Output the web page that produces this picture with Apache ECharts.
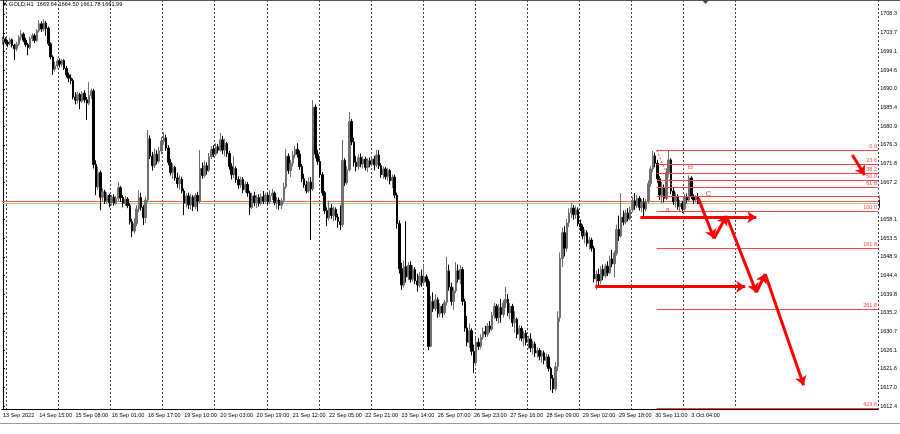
<!DOCTYPE html>
<html><head><meta charset="utf-8">
<script src="https://cdn.jsdelivr.net/npm/echarts@6/dist/echarts.min.js"></script>
<style>html,body{margin:0;padding:0;background:#fff}#c{width:900px;height:434px}</style>
</head><body><div id="c"></div><script>
// ---------- data ----------
const slotCount = 387;              // bar slots on the time axis (incl. empty shift area)
const labelEvery = 16;              // bars between time labels
const gridEvery = 23, gridFirst = 2, gridLast = 324;
const timeLabels = ['13 Sep 2022','14 Sep 15:00','15 Sep 08:00','16 Sep 01:00','16 Sep 17:00','19 Sep 10:00','20 Sep 03:00','20 Sep 19:00','21 Sep 12:00','22 Sep 05:00','22 Sep 21:00','23 Sep 14:00','26 Sep 07:00','26 Sep 23:00','27 Sep 16:00','28 Sep 09:00','29 Sep 02:00','29 Sep 18:00','30 Sep 11:00','3 Oct 04:00'];
const priceTicks = [1612.4,1617.0,1621.6,1626.1,1630.7,1635.2,1639.8,1644.4,1648.9,1653.5,1658.1,1667.2,1671.8,1676.3,1680.9,1685.4,1690.0,1694.6,1699.1,1703.7,1708.3];
const priceMin = 1611.68, priceMax = 1711.72;
const titleText = '\u25BC GOLD,H1  1663.64 1664.50 1661.78 1661.99';
// candles: [open, close, low, high]
const candles = [
[1701.5,1702.2,1700.8,1702.8],[1702.2,1701.4,1700.9,1702.6],[1701.4,1701.0,1700.2,1701.9],[1701.0,1702.0,1700.6,1702.5],[1702.0,1700.6,1700.1,1702.3],
[1700.6,1699.8,1697.0,1701.0],[1699.8,1700.9,1699.2,1701.5],[1700.9,1702.6,1700.5,1703.1],[1702.6,1703.4,1701.8,1704.4],[1703.4,1701.9,1701.4,1703.8],
[1701.9,1700.8,1700.2,1702.4],[1700.8,1700.1,1698.2,1701.2],[1700.1,1702.3,1699.7,1702.8],[1702.3,1703.0,1701.6,1703.6],[1703.0,1701.8,1701.2,1703.5],
[1701.8,1704.2,1701.5,1704.6],[1704.2,1705.9,1703.8,1706.8],[1705.9,1704.6,1703.9,1706.5],[1704.6,1706.1,1704.0,1707.0],[1706.1,1704.8,1703.0,1706.6],
[1704.8,1701.0,1700.5,1705.2],[1701.0,1697.8,1697.2,1701.4],[1697.8,1694.8,1693.4,1698.2],[1694.8,1695.6,1694.2,1696.6],[1695.6,1696.8,1695.0,1697.4],
[1696.8,1696.0,1695.2,1697.5],[1696.0,1696.9,1695.4,1697.3],[1696.9,1695.0,1694.6,1697.2],[1695.0,1693.4,1692.8,1695.6],[1693.4,1692.6,1691.6,1694.0],
[1692.6,1692.0,1691.2,1693.5],[1692.0,1688.0,1687.4,1692.5],[1688.0,1687.2,1686.2,1689.2],[1687.2,1688.6,1686.4,1689.3],[1688.6,1687.0,1685.0,1689.0],
[1687.0,1688.9,1686.5,1689.4],[1688.9,1687.3,1686.6,1689.6],[1687.3,1686.5,1682.4,1688.0],[1686.5,1688.4,1686.0,1691.6],[1688.4,1689.5,1687.5,1690.1],
[1689.5,1671.5,1670.5,1690.0],[1671.5,1666.0,1664.0,1672.5],[1666.0,1669.5,1665.2,1671.0],[1669.5,1663.5,1660.3,1670.0],[1663.5,1664.8,1662.5,1665.6],
[1664.8,1662.6,1661.8,1665.3],[1662.6,1663.9,1662.0,1664.7],[1663.9,1662.2,1661.0,1664.3],[1662.2,1663.5,1661.5,1664.0],[1663.5,1662.0,1661.4,1664.2],
[1662.0,1663.2,1661.6,1663.8],[1663.2,1665.8,1662.6,1667.2],[1665.8,1663.4,1662.3,1666.2],[1663.4,1662.0,1661.0,1664.0],[1662.0,1663.0,1661.4,1663.8],
[1663.0,1661.4,1660.8,1663.5],[1661.4,1657.5,1656.8,1662.0],[1657.5,1655.2,1653.7,1658.2],[1655.2,1657.0,1654.6,1658.3],[1657.0,1660.6,1656.4,1661.5],
[1660.6,1663.4,1659.8,1665.2],[1663.4,1661.0,1660.2,1664.6],[1661.0,1658.5,1656.7,1661.6],[1658.5,1662.8,1657.2,1663.6],[1662.8,1677.8,1662.2,1679.9],
[1677.8,1673.5,1672.8,1678.6],[1673.5,1671.2,1670.0,1674.5],[1671.2,1674.0,1670.6,1675.4],[1674.0,1672.3,1671.5,1675.0],[1672.3,1674.8,1671.8,1675.8],
[1674.8,1677.2,1674.0,1678.2],[1677.2,1678.0,1676.3,1679.4],[1678.0,1675.5,1674.8,1678.8],[1675.5,1672.0,1671.3,1676.2],[1672.0,1669.5,1668.8,1672.8],
[1669.5,1670.8,1668.0,1671.7],[1670.8,1668.2,1667.5,1671.2],[1668.2,1666.8,1665.8,1669.5],[1666.8,1667.9,1665.3,1668.8],[1667.9,1665.0,1664.4,1668.5],
[1665.0,1662.0,1659.1,1665.6],[1662.0,1663.8,1661.0,1664.5],[1663.8,1661.6,1660.6,1664.6],[1661.6,1663.5,1660.5,1664.3],[1663.5,1661.2,1660.1,1664.0],
[1661.2,1663.9,1660.6,1664.5],[1663.9,1662.5,1660.0,1664.8],[1662.5,1670.5,1662.0,1675.0],[1670.5,1668.8,1668.0,1672.0],[1668.8,1671.2,1668.2,1672.4],
[1671.2,1670.0,1669.0,1672.0],[1670.0,1673.4,1669.6,1674.3],[1673.4,1675.2,1672.8,1676.0],[1675.2,1674.0,1673.3,1676.2],[1674.0,1675.8,1673.6,1676.7],
[1675.8,1675.0,1674.2,1676.5],[1675.0,1677.5,1674.6,1679.2],[1677.5,1675.0,1674.0,1678.5],[1675.0,1676.6,1673.5,1677.8],[1676.6,1674.2,1673.3,1677.0],
[1674.2,1671.0,1670.2,1674.8],[1671.0,1669.0,1667.8,1671.8],[1669.0,1670.5,1668.2,1673.5],[1670.5,1667.8,1667.0,1671.0],[1667.8,1666.5,1665.5,1668.6],
[1666.5,1667.8,1665.8,1668.5],[1667.8,1665.3,1664.5,1668.4],[1665.3,1666.6,1664.6,1667.4],[1666.6,1664.5,1663.6,1667.2],[1664.5,1661.0,1659.1,1665.0],
[1661.0,1663.8,1660.6,1664.6],[1663.8,1662.2,1661.3,1664.8],[1662.2,1663.4,1660.8,1664.0],[1663.4,1662.0,1661.2,1664.2],[1662.0,1663.6,1661.5,1664.4],
[1663.6,1662.5,1661.8,1665.0],[1662.5,1664.0,1661.9,1664.6],[1664.0,1662.3,1661.6,1664.5],[1662.3,1663.8,1661.8,1665.2],[1663.8,1664.5,1662.8,1665.5],
[1664.5,1662.2,1661.5,1664.9],[1662.2,1662.8,1660.6,1663.6],[1662.8,1661.5,1660.4,1663.4],[1661.5,1662.6,1660.6,1663.3],[1662.6,1666.0,1662.0,1667.0],
[1666.0,1673.5,1665.5,1675.3],[1673.5,1670.0,1669.2,1674.2],[1670.0,1671.8,1668.4,1672.6],[1671.8,1673.8,1671.0,1674.8],[1673.8,1675.2,1673.0,1676.0],
[1675.2,1674.0,1673.2,1676.7],[1674.0,1671.0,1670.2,1675.0],[1671.0,1668.0,1667.2,1671.6],[1668.0,1666.5,1665.8,1669.2],[1666.5,1665.0,1664.4,1667.5],
[1665.0,1667.2,1664.6,1668.3],[1667.2,1665.5,1653.0,1668.4],[1665.5,1685.5,1665.0,1687.3],[1685.5,1674.0,1673.0,1686.2],[1674.0,1672.2,1671.4,1675.0],
[1672.2,1669.0,1668.2,1673.0],[1669.0,1664.6,1663.8,1669.6],[1664.6,1660.2,1659.4,1665.0],[1660.2,1658.4,1656.4,1661.0],[1658.4,1660.8,1657.8,1662.6],
[1660.8,1659.0,1658.2,1661.8],[1659.0,1660.5,1657.6,1661.2],[1660.5,1658.6,1657.8,1661.0],[1658.6,1657.5,1656.0,1659.4],[1657.5,1656.8,1655.5,1661.5],
[1656.8,1672.5,1656.2,1677.5],[1672.5,1667.0,1666.2,1673.0],[1667.0,1670.2,1666.5,1671.0],[1670.2,1682.0,1669.8,1684.3],[1682.0,1677.0,1676.2,1682.6],
[1677.0,1672.0,1671.0,1678.0],[1672.0,1671.0,1669.8,1673.6],[1671.0,1673.2,1670.2,1674.0],[1673.2,1671.6,1670.8,1674.2],[1671.6,1672.8,1670.5,1673.5],
[1672.8,1670.8,1670.0,1673.4],[1670.8,1672.4,1669.6,1673.0],[1672.4,1671.5,1670.8,1673.2],[1671.5,1672.8,1671.0,1673.5],[1672.8,1671.4,1670.0,1673.6],
[1671.4,1673.8,1670.8,1675.1],[1673.8,1671.2,1670.4,1675.0],[1671.2,1669.0,1668.2,1671.8],[1669.0,1670.4,1668.0,1671.0],[1670.4,1668.5,1667.8,1670.9],
[1668.5,1670.0,1667.5,1670.6],[1670.0,1667.5,1666.6,1670.4],[1667.5,1668.4,1665.7,1669.0],[1668.4,1664.0,1663.2,1669.0],[1664.0,1657.0,1655.8,1664.6],
[1657.0,1646.0,1644.8,1657.8],[1646.0,1642.0,1640.8,1647.4],[1642.0,1646.5,1641.4,1648.0],[1646.5,1644.0,1642.6,1657.6],[1644.0,1646.8,1643.2,1647.6],
[1646.8,1643.4,1642.6,1647.8],[1643.4,1645.8,1642.8,1646.8],[1645.8,1643.0,1642.2,1646.4],[1643.0,1642.0,1640.4,1644.8],[1642.0,1644.2,1641.4,1645.2],
[1644.2,1642.6,1641.6,1645.8],[1642.6,1644.0,1641.8,1646.8],[1644.0,1642.8,1641.6,1644.6],[1642.8,1627.0,1626.1,1643.4],[1627.0,1638.0,1626.8,1639.4],
[1638.0,1636.2,1635.4,1640.2],[1636.2,1638.4,1635.6,1639.8],[1638.4,1635.0,1634.0,1639.0],[1635.0,1636.8,1634.2,1637.6],[1636.8,1635.2,1634.0,1637.4],
[1635.2,1637.8,1634.6,1638.4],[1637.8,1645.5,1637.0,1648.9],[1645.5,1641.5,1640.6,1647.0],[1641.5,1638.0,1637.0,1642.6],[1638.0,1640.6,1635.9,1641.4],
[1640.6,1645.5,1640.0,1647.6],[1645.5,1643.4,1642.6,1647.0],[1643.4,1645.8,1642.2,1646.8],[1645.8,1638.0,1637.0,1646.4],[1638.0,1631.5,1630.6,1638.6],
[1631.5,1628.0,1627.0,1634.4],[1628.0,1630.8,1626.6,1632.6],[1630.8,1625.8,1624.8,1631.4],[1625.8,1623.0,1620.5,1627.4],[1623.0,1628.0,1622.2,1629.0],
[1628.0,1627.0,1626.1,1629.0],[1627.0,1629.2,1626.4,1630.0],[1629.2,1630.6,1628.6,1631.6],[1630.6,1630.0,1629.3,1632.0],[1630.0,1632.0,1629.4,1632.7],
[1632.0,1631.2,1630.4,1633.2],[1631.2,1634.6,1630.8,1635.4],[1634.6,1636.8,1633.8,1637.6],[1636.8,1634.0,1633.2,1637.4],[1634.0,1636.5,1632.6,1637.3],
[1636.5,1634.8,1632.8,1638.6],[1634.8,1637.6,1634.0,1638.4],[1637.6,1638.5,1636.4,1641.5],[1638.5,1635.2,1634.4,1639.8],[1635.2,1636.8,1633.6,1637.6],
[1636.8,1632.8,1631.8,1637.4],[1632.8,1633.6,1630.4,1635.6],[1633.6,1630.0,1629.0,1634.0],[1630.0,1631.4,1628.4,1632.2],[1631.4,1629.0,1628.2,1632.0],
[1629.0,1630.2,1627.0,1630.8],[1630.2,1628.0,1627.2,1631.0],[1628.0,1628.8,1626.4,1629.6],[1628.8,1626.6,1625.6,1630.2],[1626.6,1627.6,1625.0,1628.4],
[1627.6,1625.4,1624.4,1628.2],[1625.4,1626.0,1624.2,1626.8],[1626.0,1624.6,1623.6,1626.6],[1624.6,1625.4,1623.0,1626.0],[1625.4,1623.6,1622.6,1626.0],
[1623.6,1624.4,1622.0,1625.2],[1624.4,1621.6,1620.8,1625.0],[1621.6,1619.2,1616.3,1622.0],[1619.2,1616.6,1615.6,1620.0],[1616.6,1622.0,1616.0,1623.2],
[1622.0,1634.0,1621.0,1635.6],[1634.0,1648.5,1633.0,1650.0],[1648.5,1654.8,1646.4,1656.0],[1654.8,1651.0,1649.0,1656.4],[1651.0,1657.2,1650.2,1658.2],
[1657.2,1659.6,1656.2,1660.8],[1659.6,1660.8,1658.4,1662.1],[1660.8,1659.2,1658.0,1661.6],[1659.2,1660.4,1658.2,1661.4],[1660.4,1657.0,1656.4,1661.0],
[1657.0,1656.2,1655.2,1658.0],[1656.2,1654.0,1653.2,1656.8],[1654.0,1654.8,1652.2,1655.6],[1654.8,1652.2,1651.4,1655.4],[1652.2,1653.0,1650.6,1653.8],
[1653.0,1651.0,1650.2,1653.6],[1651.0,1643.5,1642.6,1651.6],[1643.5,1644.6,1640.8,1645.6],[1644.6,1643.0,1641.8,1646.0],[1643.0,1645.8,1642.2,1646.6],
[1645.8,1644.2,1643.2,1647.0],[1644.2,1646.6,1643.6,1647.2],[1646.6,1645.0,1644.2,1647.8],[1645.0,1648.4,1644.6,1649.2],[1648.4,1647.2,1646.4,1650.6],
[1647.2,1649.8,1643.8,1650.4],[1649.8,1655.6,1649.2,1656.8],[1655.6,1654.0,1652.8,1659.0],[1654.0,1658.6,1653.6,1664.5],[1658.6,1657.4,1656.6,1660.2],
[1657.4,1659.6,1656.8,1660.4],[1659.6,1658.2,1657.6,1660.8],[1658.2,1660.4,1657.8,1661.2],[1660.4,1662.6,1659.8,1663.6],[1662.6,1661.4,1660.4,1664.5],
[1661.4,1663.2,1660.8,1664.0],[1663.2,1661.0,1660.2,1663.8],[1661.0,1662.2,1659.8,1663.0],[1662.2,1660.6,1658.6,1663.3],[1660.6,1662.4,1660.0,1663.0],
[1662.4,1666.8,1662.0,1667.6],[1666.8,1670.4,1666.0,1671.2],[1670.4,1673.6,1669.6,1674.8],[1673.6,1671.8,1670.8,1674.4],[1671.8,1668.0,1667.0,1672.6],
[1668.0,1664.0,1662.8,1668.6],[1664.0,1665.8,1662.0,1667.2],[1665.8,1663.2,1662.2,1666.6],[1663.2,1669.5,1662.8,1670.6],[1669.5,1672.6,1668.8,1675.0],
[1672.6,1665.0,1664.2,1673.0],[1665.0,1662.4,1661.6,1665.8],[1662.4,1663.6,1661.0,1664.6],[1663.6,1661.2,1660.4,1664.2],[1661.2,1662.0,1659.8,1662.8],
[1662.0,1660.6,1659.6,1662.6],[1660.6,1663.4,1660.2,1664.2],[1663.4,1662.8,1662.0,1664.4],[1662.8,1668.2,1662.4,1668.8],[1668.2,1663.6,1663.0,1668.6],
[1663.6,1662.8,1661.8,1664.2],[1662.8,1663.64,1662.2,1664.0],[1663.64,1661.99,1661.78,1664.50]
];
// Fibonacci levels (label, price) drawn from the swing start to the right edge
const fibNames  = ['0.0','23.6','38.2','50.0','61.8','','100.0','161.8','261.8','423.6'];
const fibPrices = [1675.0,1671.5,1669.3,1667.55,1665.8,1663.6,1660.1,1650.9,1636.0,1611.9];
const fibFrom = 288.7, fibTo = 386.4;
const fibAnchor = [[288.7,1675.0],[295.7,1666.0]];
// horizontal price lines
const askLinePrice = 1662.5, bidLinePrice = 1661.99;
// forecast arrows [barPosition, price]
const forecastPath = [[307.1,1663.2],[314.0,1653.4],[319.5,1658.9],[332.7,1640.2],[336.6,1644.7],[353.6,1617.5]];
const targetArrows = [
  [[281.5,1658.6],[332.7,1658.6]],
  [[261.6,1641.6],[327.8,1641.6]],
  [[375.1,1673.8],[380.5,1668.9]]
];
const waveLabels = [['a',293.5,1660.4],['B',303.6,1671.0],['C',311.5,1664.3]];

// ---------- chart ----------
const categories = [];
for (let i = 0; i < slotCount; i++) categories.push(String(i));
const FONT = 'Liberation Sans';
const RED = '#ff0000', FIB = 'rgb(245,70,70)';

const fibLines = fibNames.map((n, k) => ({
  coords: [[fibFrom, fibPrices[k]], [fibTo, fibPrices[k]]],
  label: { show: n !== '', formatter: n }
}));
const arrowSegs = [];
for (let k = 0; k < forecastPath.length - 1; k++) arrowSegs.push({ coords: [forecastPath[k], forecastPath[k + 1]] });
targetArrows.forEach(a => arrowSegs.push({ coords: a }));

const chart = echarts.init(document.getElementById('c'), null, { renderer: 'canvas' });
chart.setOption({
  animation: false,
  backgroundColor: '#fff',
  title: { text: titleText, left: 2, top: 1, padding: 0,
    textStyle: { fontSize: 5.6, fontWeight: 'normal', color: '#000', fontFamily: FONT } },
  grid: { left: 0, right: 18, top: 0, bottom: 25, containLabel: false },
  xAxis: [{
    type: 'category', data: categories, boundaryGap: true,
    axisLine: { show: true, lineStyle: { color: '#000', width: 1 } },
    axisTick: { show: false },
    axisLabel: {
      interval: (i) => i % labelEvery === 0 && i / labelEvery < timeLabels.length,
      formatter: (v) => timeLabels[Number(v) / labelEvery] || '',
      align: 'left', margin: 3, fontSize: 5.5, color: '#000', fontFamily: FONT
    },
    splitLine: {
      show: true,
      interval: (i) => i >= gridFirst && i <= gridLast && (i - gridFirst) % gridEvery === 0,
      lineStyle: { color: '#444', type: [2, 2], width: 1 }
    }
  }, {
    type: 'value', min: -0.5, max: slotCount - 0.5, show: false
  }],
  yAxis: {
    type: 'value', position: 'right', min: priceMin, max: priceMax,
    axisLine: { show: true, lineStyle: { color: '#000', width: 1 } },
    axisTick: { show: true, length: 2, customValues: priceTicks, lineStyle: { color: '#000' } },
    axisLabel: { customValues: priceTicks, formatter: (v) => v.toFixed(1), margin: 2,
      fontSize: 5.5, color: '#000', fontFamily: FONT },
    splitLine: { show: false }
  },
  series: [
    {
      type: 'candlestick', xAxisIndex: 0, yAxisIndex: 0, data: candles, barWidth: 2,
      itemStyle: { color: '#6f6f6f', color0: '#000', borderColor: '#6f6f6f', borderColor0: '#000', borderWidth: 1 }
    },
    {
      type: 'lines', coordinateSystem: 'cartesian2d', xAxisIndex: 1, yAxisIndex: 0, z: 3,
      symbol: 'none', lineStyle: { color: FIB, width: 1, opacity: 1 },
      label: { show: true, position: 'insideEndTop', distance: 1, color: FIB, fontSize: 5.5, fontFamily: FONT },
      data: fibLines
    },
    {
      type: 'lines', coordinateSystem: 'cartesian2d', xAxisIndex: 1, yAxisIndex: 0, z: 3,
      symbol: 'none', lineStyle: { color: FIB, width: 1, type: [2, 2], opacity: 1 },
      data: [{ coords: fibAnchor }]
    },
    {
      type: 'lines', coordinateSystem: 'cartesian2d', xAxisIndex: 1, yAxisIndex: 0, z: 2,
      symbol: 'none', lineStyle: { width: 1, opacity: 1 },
      label: { show: true, position: 'end', distance: 1, fontSize: 5.5, fontFamily: FONT, padding: [1, 2] },
      data: [
        { coords: [[-0.5, askLinePrice], [slotCount - 0.5, askLinePrice]], lineStyle: { color: '#ff5a3c' },
          label: { formatter: askLinePrice.toFixed(1), backgroundColor: '#ff4a2a', color: '#fff', offset: [0, -2] } },
        { coords: [[-0.5, bidLinePrice], [slotCount - 0.5, bidLinePrice]], lineStyle: { color: '#a8c8a8' },
          label: { formatter: bidLinePrice.toFixed(2), backgroundColor: '#000', color: '#fff', offset: [0, 1] } }
      ]
    },
    {
      type: 'lines', coordinateSystem: 'cartesian2d', xAxisIndex: 1, yAxisIndex: 0, z: 5,
      symbol: ['none', 'arrow'], symbolSize: 9,
      lineStyle: { color: RED, width: 3, opacity: 1 },
      data: arrowSegs
    },
    {
      type: 'scatter', xAxisIndex: 1, yAxisIndex: 0, symbolSize: 0, z: 6,
      data: waveLabels.map(w => ({ value: [w[1], w[2]], name: w[0] })),
      label: { show: true, position: 'inside', formatter: (p) => p.name, color: '#ff2a2a', fontSize: 8, fontFamily: FONT }
    }
  ],
  graphic: [
    { type: 'line', shape: { x1: 0, y1: 0.5, x2: 900, y2: 0.5 }, style: { stroke: '#555', lineWidth: 1 }, silent: true },
    { type: 'line', shape: { x1: 0, y1: 423.5, x2: 900, y2: 423.5 }, style: { stroke: '#999', lineWidth: 1 }, silent: true },
    { type: 'polygon', shape: { points: [[702, 0], [709, 0], [705.5, 4]] }, style: { fill: '#444' }, silent: true }
  ]
});
</script></body></html>
